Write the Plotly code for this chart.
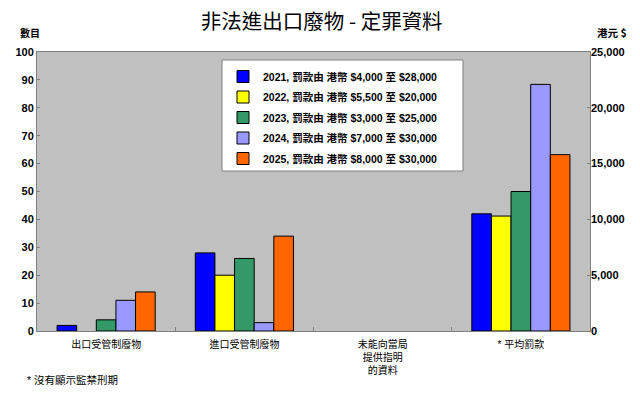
import plotly.graph_objects as go

categories = ["出口受管制廢物", "進口受管制廢物", "未能向當局<br>提供指明<br>的資料", "* 平均罰款"]
series_names = [
    "2021, 罰款由 港幣 $4,000 至 $28,000",
    "2022, 罰款由 港幣 $5,500 至 $20,000",
    "2023, 罰款由 港幣 $3,000 至 $25,000",
    "2024, 罰款由 港幣 $7,000 至 $30,000",
    "2025, 罰款由 港幣 $8,000 至 $30,000",
]
colors = ["#0000FF", "#FFFF00", "#339966", "#9999FF", "#FF6600"]
# counts (left axis) for the first three categories
counts = [
    [2, 28, 0],
    [0, 20, 0],
    [4, 26, 0],
    [11, 3, 0],
    [14, 34, 0],
]
# average fine in HK$ (right axis)
avg_fine = [10500, 10300, 12500, 22100, 15800]

FONT = "Arial, 'Liberation Sans', 'Noto Sans CJK TC', sans-serif"
CJK = "'Noto Sans CJK TC', Arial, sans-serif"

def nz(vals):
    # zero-count bars are not drawn (no outline) in the reference
    return [v if v != 0 else None for v in vals]

fig = go.Figure()
n = len(series_names)
bw = 0.142
start = -bw * n / 2
for i in range(n):
    fig.add_trace(go.Bar(
        x=categories[:3], y=nz(counts[i]), name=series_names[i],
        marker=dict(color=colors[i], line=dict(color="#000000", width=1)),
        width=bw, offset=start + i * bw, yaxis="y", legendgroup=f"g{i}",
        showlegend=True,
    ))
for i in range(n):
    fig.add_trace(go.Bar(
        x=[categories[3]], y=[avg_fine[i]], name=series_names[i],
        marker=dict(color=colors[i], line=dict(color="#000000", width=1)),
        width=bw, offset=start + i * bw, yaxis="y2", legendgroup=f"g{i}",
        showlegend=False,
    ))

L, R, T, B = 37, 590, 52, 331
W, H = 640, 397

def px(x):
    return (x - L) / (R - L)

def py(y):
    return (B - y) / (B - T)

fig.update_layout(
    width=W, height=H,
    margin=dict(l=L, r=W - R, t=T, b=H - B),
    paper_bgcolor="#FFFFFF", plot_bgcolor="#C0C0C0",
    barmode="overlay",
    font=dict(family=FONT, size=11, color="#000000"),
    showlegend=True,
    legend=dict(
        x=px(223), y=py(62), xanchor="left", yanchor="top",
        bgcolor="rgba(0,0,0,0)", borderwidth=0,
        font=dict(family=FONT, size=10.5, color="#000000", weight="bold"),
        traceorder="grouped", tracegroupgap=1.5, itemwidth=30,
    ),
    xaxis=dict(
        categoryorder="array", categoryarray=categories,
        showline=True, linecolor="#808080", linewidth=1, mirror=True,
        ticks="inside", tickson="boundaries", ticklen=4, tickcolor="#808080",
        tickfont=dict(family=FONT, size=10), showgrid=False, zeroline=False,
        range=[-0.5, 3.5], ticklabelstandoff=4,
    ),
    yaxis=dict(
        range=[0, 100], dtick=10, showgrid=False, zeroline=False,
        showline=True, linecolor="#808080", linewidth=1, mirror=True,
        ticks="inside", ticklen=3, tickcolor="#808080",
        tickfont=dict(family=FONT, size=11, weight="bold"),
    ),
    yaxis2=dict(
        range=[0, 25000], dtick=5000, overlaying="y", side="right",
        showgrid=False, zeroline=False, tickformat=",d",
        ticks="inside", ticklen=3, tickcolor="#808080",
        tickfont=dict(family=FONT, size=11, weight="bold"),
    ),
    title=dict(
        text="非法進出口廢物 - 定罪資料", x=px(315), xanchor="center",
        y=1 - 22 / H, yanchor="middle",
        font=dict(family=CJK, size=20.5, color="#000000"),
    ),
    shapes=[dict(
        type="rect", xref="paper", yref="paper",
        x0=px(222), x1=px(463), y0=py(171), y1=py(60),
        fillcolor="#FFFFFF", line=dict(color="#808080", width=1), layer="below",
    )],
    annotations=[
        dict(text="數目", xref="paper", yref="paper", x=px(18), y=py(33),
             xanchor="left", yanchor="middle", showarrow=False,
             font=dict(family=CJK, size=10, weight="bold")),
        dict(text="港元 $", xref="paper", yref="paper", x=px(595), y=py(33),
             xanchor="left", yanchor="middle", showarrow=False,
             font=dict(family=CJK, size=10.5, weight="bold")),
        dict(text="* 沒有顯示監禁刑期", xref="paper", yref="paper", x=px(25), y=py(380),
             xanchor="left", yanchor="middle", showarrow=False,
             font=dict(family=FONT, size=10.5)),
    ],
)

fig.write_html("out.html")
